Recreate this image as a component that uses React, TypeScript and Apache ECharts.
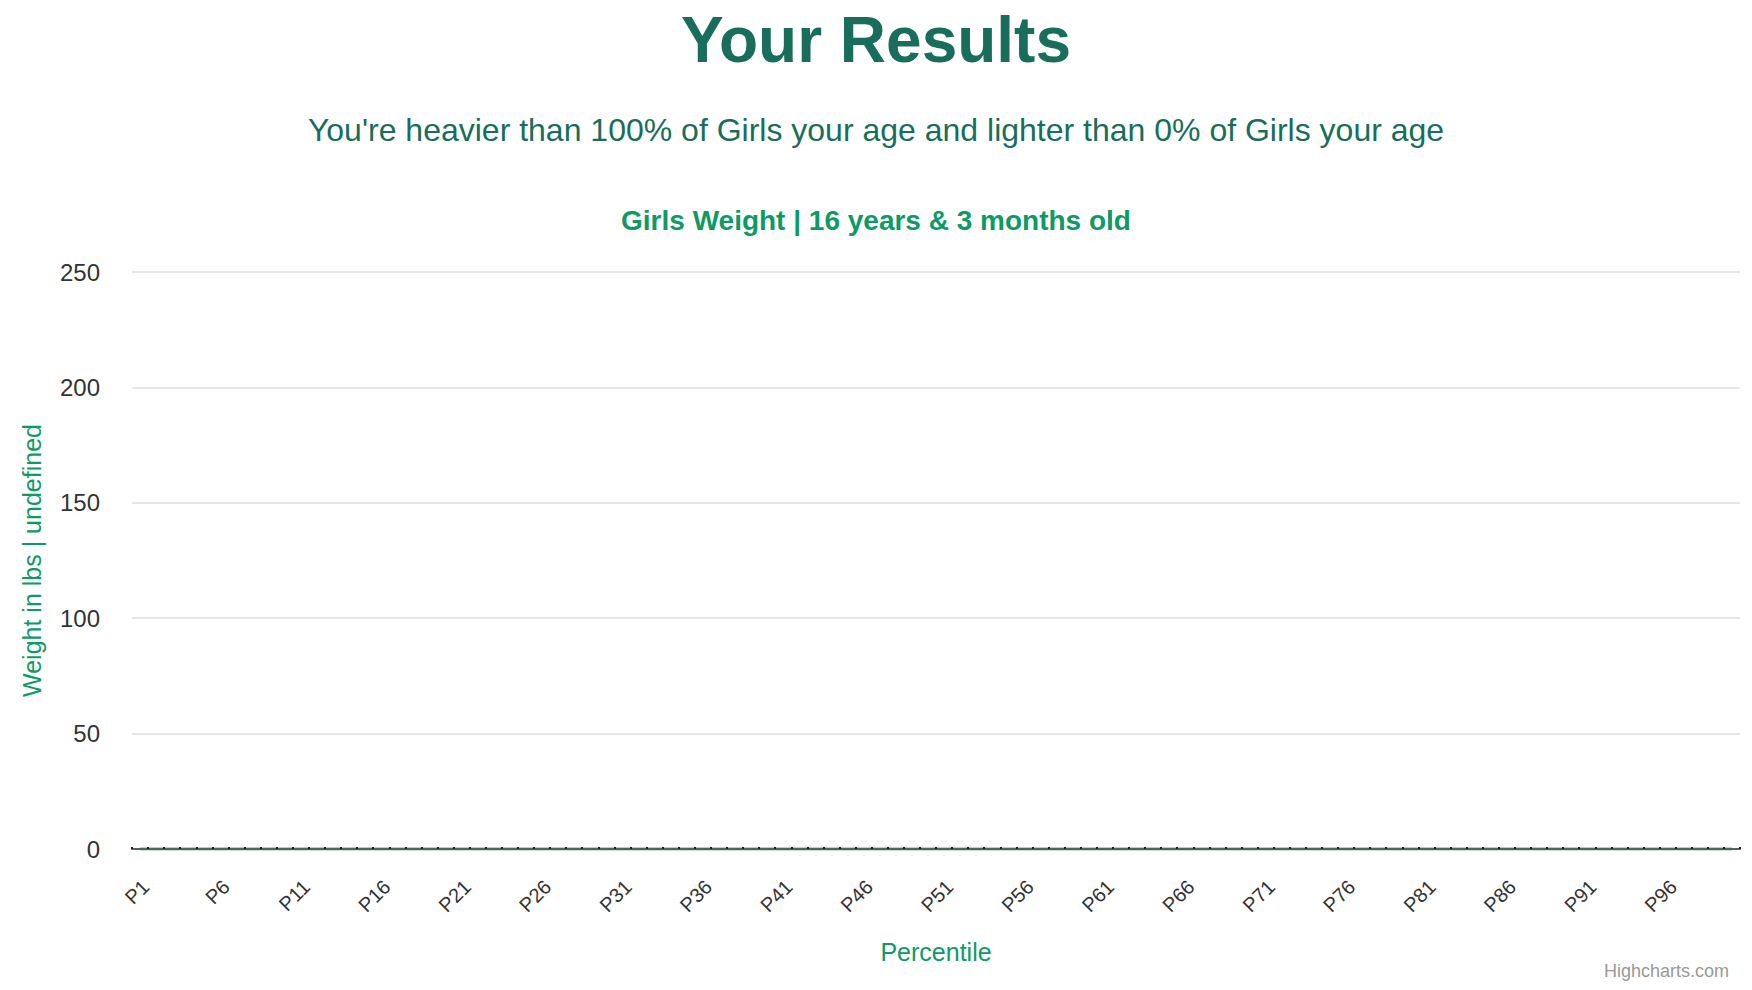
import React, { useEffect, useRef } from 'react';
import * as echarts from 'echarts';
import type { EChartsOption } from 'echarts';

const categories = [
  'P1', 'P2', 'P3', 'P4', 'P5', 'P6', 'P7', 'P8', 'P9', 'P10',
  'P11', 'P12', 'P13', 'P14', 'P15', 'P16', 'P17', 'P18', 'P19', 'P20',
  'P21', 'P22', 'P23', 'P24', 'P25', 'P26', 'P27', 'P28', 'P29', 'P30',
  'P31', 'P32', 'P33', 'P34', 'P35', 'P36', 'P37', 'P38', 'P39', 'P40',
  'P41', 'P42', 'P43', 'P44', 'P45', 'P46', 'P47', 'P48', 'P49', 'P50',
  'P51', 'P52', 'P53', 'P54', 'P55', 'P56', 'P57', 'P58', 'P59', 'P60',
  'P61', 'P62', 'P63', 'P64', 'P65', 'P66', 'P67', 'P68', 'P69', 'P70',
  'P71', 'P72', 'P73', 'P74', 'P75', 'P76', 'P77', 'P78', 'P79', 'P80',
  'P81', 'P82', 'P83', 'P84', 'P85', 'P86', 'P87', 'P88', 'P89', 'P90',
  'P91', 'P92', 'P93', 'P94', 'P95', 'P96', 'P97', 'P98', 'P99', 'P100',
];

// every percentile came back as 0 lbs in the source chart
const weights = [
  0, 0, 0, 0, 0, 0, 0, 0, 0, 0, 0, 0, 0, 0, 0, 0, 0, 0, 0, 0,
  0, 0, 0, 0, 0, 0, 0, 0, 0, 0, 0, 0, 0, 0, 0, 0, 0, 0, 0, 0,
  0, 0, 0, 0, 0, 0, 0, 0, 0, 0, 0, 0, 0, 0, 0, 0, 0, 0, 0, 0,
  0, 0, 0, 0, 0, 0, 0, 0, 0, 0, 0, 0, 0, 0, 0, 0, 0, 0, 0, 0,
  0, 0, 0, 0, 0, 0, 0, 0, 0, 0, 0, 0, 0, 0, 0, 0, 0, 0, 0, 0,
];

const yTicks = [0, 50, 100, 150, 200, 250];

const FONT = "'Liberation Sans', Arial, Helvetica, sans-serif";
const DARK_GREEN = '#186e5b';
const GREEN = '#0e9a65';

export default function App() {
  const chartRef = useRef<HTMLDivElement>(null);

  useEffect(() => {
    document.body.style.margin = '0';
    if (!chartRef.current) return;
    const chart = echarts.init(chartRef.current, undefined, { renderer: 'svg' });

    const option: EChartsOption = {
      animation: false,
      backgroundColor: '#ffffff',
      textStyle: { fontFamily: FONT },
      title: [
        {
          text: 'Your Results',
          left: 'center',
          top: 3,
          textStyle: { fontFamily: FONT, fontSize: 64, fontWeight: 'bold', color: DARK_GREEN },
        },
        {
          text: "You're heavier than 100% of Girls your age and lighter than 0% of Girls your age",
          left: 'center',
          top: 109,
          textStyle: { fontFamily: FONT, fontSize: 32, fontWeight: 'normal', color: DARK_GREEN },
        },
        {
          text: 'Girls Weight | 16 years & 3 months old',
          left: 'center',
          top: 201,
          textStyle: { fontFamily: FONT, fontSize: 28, fontWeight: 'bold', color: GREEN },
        },
      ],
      graphic: [
        {
          type: 'text',
          right: 23,
          top: 962,
          style: { text: 'Highcharts.com', fontFamily: FONT, fontSize: 18, fill: '#999999' },
        },
      ],
      grid: { left: 132, right: 12, top: 272, bottom: 141, containLabel: false },
      xAxis: {
        type: 'category',
        data: categories,
        boundaryGap: true,
        z: 5,
        name: 'Percentile',
        nameLocation: 'middle',
        nameGap: 90,
        nameTextStyle: { fontFamily: FONT, fontSize: 25, color: GREEN },
        axisLine: { show: true, lineStyle: { color: '#4f6558', width: 2 } },
        axisTick: {
          show: true,
          inside: true,
          interval: 0,
          length: 2,
          lineStyle: { color: '#222222', width: 2 },
        },
        axisLabel: {
          interval: 4,
          rotate: 45,
          margin: 40,
          padding: [0, -8, 0, 0],
          fontFamily: FONT,
          fontSize: 20,
          color: '#333333',
        },
        splitLine: { show: false },
      },
      yAxis: {
        type: 'value',
        min: yTicks[0],
        max: yTicks[yTicks.length - 1],
        interval: 50,
        name: 'Weight in lbs | undefined',
        nameLocation: 'middle',
        nameGap: 88,
        nameTextStyle: { fontFamily: FONT, fontSize: 25, color: GREEN },
        axisLine: { show: false },
        axisTick: { show: false },
        axisLabel: { margin: 32, fontFamily: FONT, fontSize: 24, color: '#333333' },
        splitLine: { show: true, lineStyle: { color: '#e6e6e6', width: 2 } },
      },
      series: [
        {
          name: 'Weight',
          type: 'line',
          data: weights,
          showSymbol: false,
          z: 1,
          lineStyle: { color: '#98c7b1', width: 3.5 },
        },
      ],
    };

    chart.setOption(option);
    return () => {
      chart.dispose();
    };
  }, []);

  return <div ref={chartRef} style={{ width: 1752, height: 990 }} />;
}
